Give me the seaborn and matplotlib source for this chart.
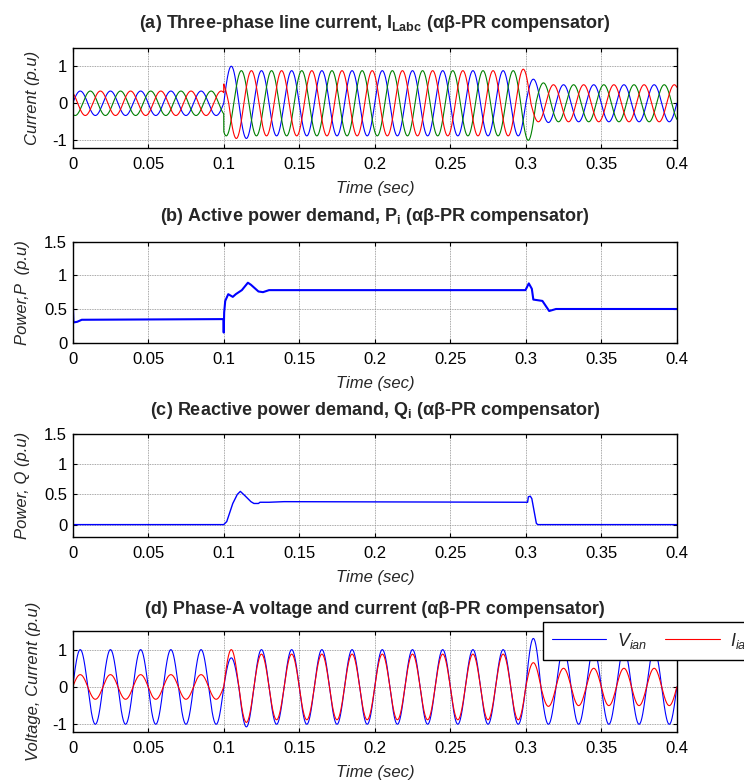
import numpy as np
import pandas as pd
import matplotlib
matplotlib.use("Agg")
import matplotlib.pyplot as plt
import seaborn as sns

# ---------------- data ----------------
LINE_FREQ_HZ = 50.0
T_END = 0.4

X_TICKS = [0, 0.05, 0.1, 0.15, 0.2, 0.25, 0.3, 0.35, 0.4]
X_TICK_LABELS = ["0", "0.05", "0.1", "0.15", "0.2", "0.25", "0.3", "0.35", "0.4"]

# Line currents: peak amplitude (p.u) held from each switching instant (s)
ia_times = [0.0, 0.10, 0.11, 0.12, 0.30, 0.31, 0.32]
ia_peaks = [0.33, 1.00, 0.95, 0.88, 0.65, 0.52, 0.50]

ib_times = [0.0, 0.10, 0.2967, 0.3067, 0.3167]
ib_peaks = [0.33, 0.88, 1.00, 0.55, 0.50]

ic_times = [0.0, 0.10, 0.1033, 0.1133, 0.2933, 0.3033]
ic_peaks = [0.33, 0.60, 0.95, 0.88, 0.92, 0.50]

# Phase-A supply voltage peak (p.u)
va_times = [0.0, 0.10, 0.11, 0.12, 0.30, 0.31]
va_peaks = [1.00, 0.78, 1.07, 1.00, 1.30, 1.00]

# Active power demand P (p.u)
p_time = [0.0, 0.0005, 0.003, 0.006, 0.0998, 0.1, 0.1003, 0.101, 0.103, 0.106,
          0.108, 0.112, 0.116, 0.118, 0.121, 0.123, 0.126, 0.13, 0.2998, 0.302,
          0.304, 0.305, 0.311, 0.3155, 0.32, 0.4]
p_value = [0.65, 0.30, 0.31, 0.34, 0.35, 0.15, 0.45, 0.62, 0.72, 0.68,
           0.72, 0.78, 0.89, 0.86, 0.80, 0.76, 0.75, 0.78, 0.78, 0.88,
           0.80, 0.64, 0.62, 0.47, 0.50, 0.50]

# Reactive power demand Q (p.u)
q_time = [0.0, 0.1, 0.102, 0.106, 0.109, 0.111, 0.114, 0.118, 0.12, 0.123,
          0.124, 0.13, 0.14, 0.3, 0.3012, 0.3017, 0.303, 0.304, 0.307, 0.308, 0.4]
q_value = [0.0, 0.0, 0.05, 0.35, 0.50, 0.55, 0.48, 0.38, 0.35, 0.35,
           0.37, 0.37, 0.38, 0.37, 0.37, 0.46, 0.47, 0.43, 0.02, 0.0, 0.0]

BLUE, GREEN, RED = "#0000ff", "#008000", "#ff0000"

# ---------------- style ----------------
sns.set_theme(style="ticks")
plt.rcParams.update({
    "font.family": ["Liberation Sans", "DejaVu Sans"],
    "mathtext.fontset": "custom",
    "mathtext.rm": "Liberation Sans",
    "mathtext.it": "Liberation Sans:italic",
    "mathtext.bf": "Liberation Sans:bold",
    "axes.unicode_minus": False,
    "axes.edgecolor": "black",
    "axes.linewidth": 1.0,
})

t = np.arange(0.0, T_END + 1e-6, 1e-5)
omega = 2 * np.pi * LINE_FREQ_HZ


def envelope(times, peaks):
    idx = np.searchsorted(np.asarray(times), t, side="right") - 1
    return np.asarray(peaks)[idx]


ia = envelope(ia_times, ia_peaks) * np.sin(omega * t)
ib = envelope(ib_times, ib_peaks) * np.sin(omega * t - 2 * np.pi / 3)
ic = envelope(ic_times, ic_peaks) * np.sin(omega * t + 2 * np.pi / 3)
va = envelope(va_times, va_peaks) * np.sin(omega * t)

fig = plt.figure(figsize=(7.44, 7.82), dpi=100)

LEFT, WIDTH = 0.0977, 0.812
boxes = [
    (0.8111, 0.1279),
    (0.5618, 0.1292),
    (0.3137, 0.1313),
    (0.0643, 0.1288),
]
axes = [fig.add_axes([LEFT, b, WIDTH, h]) for b, h in boxes]


def style_axes(ax, ylim, yticks, yticklabels, ylabel, title, ypad, tpad):
    ax.set_xlim(0, T_END)
    ax.set_ylim(*ylim)
    ax.set_xticks(X_TICKS)
    ax.set_xticklabels(X_TICK_LABELS)
    ax.set_yticks(yticks)
    ax.set_yticklabels(yticklabels)
    ax.tick_params(direction="in", length=3, width=0.8, top=True, right=True,
                   labelsize=12, colors="black")
    ax.tick_params(axis="x", pad=7)
    ax.tick_params(axis="y", pad=4)
    ax.grid(True, color="#8a8a8a", linestyle=(0, (1, 1)), linewidth=0.6)
    for s in ax.spines.values():
        s.set_visible(True)
        s.set_color("black")
    ax.set_xlabel("Time (sec)", fontsize=12, fontstyle="italic", labelpad=6)
    ax.set_ylabel(ylabel, fontsize=12, fontstyle="italic", labelpad=ypad)
    ax.set_title(title, fontsize=13, fontweight="bold", pad=tpad)


# (a) three-phase line currents
df_a = pd.DataFrame({
    "time": np.concatenate([t, t, t]),
    "current": np.concatenate([ia, ib, ic]),
    "phase": np.repeat(["a", "b", "c"], len(t)),
})
sns.lineplot(data=df_a, x="time", y="current", hue="phase",
             palette={"a": BLUE, "b": GREEN, "c": RED},
             estimator=None, sort=False, linewidth=0.8, legend=False, ax=axes[0])
style_axes(axes[0], (-1.2, 1.5), [-1, 0, 1], ["-1", "0", "1"], "Current (p.u)",
           r"(a) Three-phase line current, $\mathbf{I_{Labc}}$ (αβ-PR compensator)",
           ypad=9, tpad=14)

# (b) active power
sns.lineplot(x=p_time, y=p_value, color=BLUE, linewidth=1.5,
             estimator=None, sort=False, ax=axes[1])
style_axes(axes[1], (0, 1.5), [0, 0.5, 1, 1.5], ["0", "0.5", "1", "1.5"],
           "Power,P  (p.u)",
           r"(b) Active power demand, $\mathbf{P_{i}}$ (αβ-PR compensator)",
           ypad=10, tpad=15)

# (c) reactive power
sns.lineplot(x=q_time, y=q_value, color=BLUE, linewidth=1.0,
             estimator=None, sort=False, ax=axes[2])
style_axes(axes[2], (-0.2, 1.5), [0, 0.5, 1, 1.5], ["0", "0.5", "1", "1.5"],
           "Power, Q (p.u)",
           r"(c) Reactive power demand, $\mathbf{Q_{i}}$ (αβ-PR compensator)",
           ypad=10, tpad=14)

# (d) phase-A voltage and current
sns.lineplot(x=t, y=va, color=BLUE, linewidth=0.8, estimator=None, sort=False,
             label=r"$V_{ian}$", ax=axes[3])
sns.lineplot(x=t, y=ia, color=RED, linewidth=0.8, estimator=None, sort=False,
             label=r"$I_{ia}$", ax=axes[3])
style_axes(axes[3], (-1.2, 1.5), [-1, 0, 1], ["-1", "0", "1"],
           "Voltage, Current (p.u)",
           "(d) Phase-A voltage and current (αβ-PR compensator)",
           ypad=8, tpad=12.5)

leg = axes[3].legend(loc="upper left", bbox_to_anchor=(543 / 744, 1 - 621.7 / 782),
                     bbox_transform=fig.transFigure, ncol=2, frameon=True,
                     fancybox=False, edgecolor="black", framealpha=1,
                     borderaxespad=0, fontsize=13, handlelength=3.0,
                     handletextpad=0.6, columnspacing=1.0, borderpad=0.5)
leg.get_frame().set_linewidth(1.0)
leg.set_zorder(10)

fig.savefig("out.png", dpi=100)
